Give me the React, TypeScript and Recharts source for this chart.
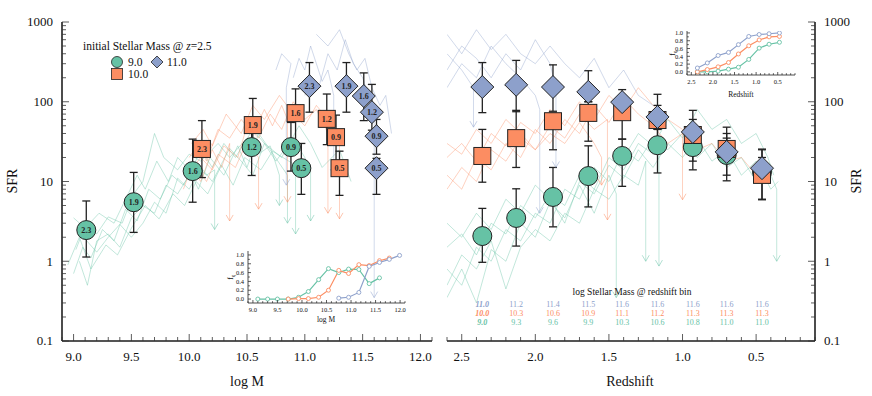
import React from 'react';
import { ComposedChart, LineChart, Line, Scatter, XAxis, YAxis, ErrorBar } from 'recharts';

const GREEN = '#66c2a5';
const ORANGE = '#fc8d62';
const BLUE = '#8da0cb';
const FONT = '"Liberation Serif", "DejaVu Serif", serif';

// ---------- left panel: SFR vs log M, labels = redshift ----------
const mGreenX = [9.11, 9.52, 10.03, 10.54, 10.88, 10.97];
const mGreenY = [2.46, 5.5, 13.5, 27, 27, 14.7];
const mGreenHi = [5.7, 13, 34, 55, 55, 30];
const mGreenLo = [1.13, 2.3, 5.5, 11.9, 13.5, 6.9];
const mGreenZ = ['2.3', '1.9', '1.6', '1.2', '0.9', '0.5'];

const mOrangeX = [10.11, 10.55, 10.92, 11.19, 11.27, 11.3];
const mOrangeY = [25.6, 51, 72, 61, 36, 14.7];
const mOrangeHi = [58, 110, 145, 125, 68, 24];
const mOrangeLo = [11.2, 22, 30, 29, 17, 6.7];
const mOrangeZ = ['2.3', '1.9', '1.6', '1.2', '0.9', '0.5'];

const mBlueX = [11.04, 11.36, 11.51, 11.58, 11.62, 11.62];
const mBlueY = [157, 157, 118, 74, 37, 14.7];
const mBlueHi = [310, 310, 230, 165, 60, 19.5];
const mBlueLo = [74, 74, 58, 44, 22, 6.9];
const mBlueZ = ['2.3', '1.9', '1.6', '1.2', '0.9', '0.5'];

// ---------- right panel: SFR vs redshift ----------
const zBins = [2.36, 2.13, 1.88, 1.64, 1.41, 1.17, 0.93, 0.7, 0.46];
const zGreenY = [2.07, 3.49, 6.4, 11.7, 20.9, 28.5, 27, 21.5, 13.1];
const zGreenHi = [4.6, 8.1, 15, 28, 34, 45, 45, 35, 25];
const zGreenLo = [0.97, 1.55, 2.7, 4.8, 8.7, 12.8, 14, 10.2, 6];
const zOrangeY = [20.9, 35, 57, 72.5, 74, 59, 38.3, 25.6, 12.1];
const zOrangeHi = [45, 78, 72, 100, 110, 90, 60, 40, 20];
const zOrangeLo = [9.8, 15, 25, 32, 34, 30, 18, 12, 5.9];
const zBlueY = [153, 163, 153, 133, 99, 64.5, 41.8, 23.5, 14.7];
const zBlueHi = [310, 330, 290, 245, 142, 124, 78, 48, 25.5];
const zBlueLo = [73, 75, 76, 100, 60, 45, 26, 18, 10];

const massAtZBlue = ['11.0', '11.2', '11.4', '11.5', '11.6', '11.6', '11.6', '11.6', '11.6'];
const massAtZOrange = ['10.0', '10.3', '10.6', '10.9', '11.1', '11.2', '11.3', '11.3', '11.3'];
const massAtZGreen = ['9.0', '9.3', '9.6', '9.9', '10.3', '10.6', '10.8', '11.0', '11.0'];

// ---------- insets: quenched fraction ----------
const fqGreenM = [9.1, 9.3, 9.5, 9.72, 9.93, 10.13, 10.34, 10.54, 10.75, 10.95, 11.16, 11.37, 11.58];
const fqGreenMv = [0, 0, 0, 0, 0.04, 0.17, 0.44, 0.69, 0.6, 0.68, 0.67, 0.35, 0.48];
const fqOrangeM = [9.72, 9.93, 10.13, 10.34, 10.54, 10.75, 10.95, 11.16, 11.37, 11.58, 11.78];
const fqOrangeMv = [0, 0.01, 0.01, 0.04, 0.2, 0.65, 0.58, 0.78, 0.76, 0.87, 0.93];
const fqBlueM = [10.75, 10.95, 11.16, 11.37, 11.58, 11.78, 11.99];
const fqBlueMv = [0.02, 0.04, 0.15, 0.74, 0.83, 0.9, 0.99];

const fqBlueZ = [0.1, 0.23, 0.42, 0.5, 0.7, 0.91, 0.96, 0.98, 1.0];
const fqOrangeZ = [0.0, 0.06, 0.13, 0.24, 0.46, 0.67, 0.82, 0.9, 0.91];
const fqGreenZ = [0.0, 0.0, 0.02, 0.07, 0.12, 0.32, 0.61, 0.71, 0.76];

// ---------- individual tracks (faint lines) ----------
const trackGreenM = [
  [[9.0, 0.7], [9.08, 1.5], [9.15, 1.1], [9.25, 2.5], [9.35, 1.8], [9.45, 4.5], [9.55, 3.2], [9.65, 8], [9.75, 6], [9.85, 12], [9.95, 9], [10.05, 16], [10.15, 12], [10.22, 14], [10.22, 2.5]],
  [[9.02, 1.4], [9.1, 2.8], [9.2, 2.2], [9.3, 3.6], [9.42, 3.0], [9.52, 7], [9.6, 10], [9.7, 40], [9.78, 20], [9.9, 14], [10.0, 22], [10.1, 18], [10.25, 30], [10.35, 20], [10.5, 35], [10.6, 22], [10.7, 28], [10.78, 12], [10.78, 5]],
  [[9.05, 1.0], [9.12, 0.5], [9.2, 1.8], [9.3, 2.2], [9.4, 1.5], [9.5, 3.5], [9.6, 5], [9.7, 4], [9.8, 9], [9.9, 7], [10.0, 12], [10.1, 25], [10.2, 15], [10.3, 30], [10.4, 20], [10.55, 45], [10.65, 30], [10.75, 18], [10.9, 35], [11.0, 20], [11.05, 14], [11.05, 3.2]],
  [[9.0, 3.5], [9.1, 2.6], [9.22, 4], [9.35, 3], [9.45, 6], [9.55, 12], [9.62, 8], [9.72, 18], [9.82, 10], [9.9, 20], [10.0, 14], [10.08, 8], [10.18, 20], [10.3, 12], [10.42, 28], [10.5, 15], [10.6, 40], [10.7, 25], [10.85, 12], [10.85, 3]],
  [[9.1, 1.9], [9.2, 1.3], [9.3, 2], [9.4, 2.9], [9.5, 2], [9.6, 3], [9.7, 5.5], [9.8, 4], [9.9, 11], [10.0, 8], [10.1, 15], [10.2, 10], [10.35, 26], [10.45, 18], [10.55, 12], [10.65, 30], [10.8, 20], [10.95, 50], [11.05, 30], [11.15, 15], [11.3, 25], [11.4, 10]],
  [[8.95, 0.9], [9.05, 2.0], [9.15, 0.8], [9.28, 1.6], [9.38, 1.2], [9.5, 2.6], [9.62, 5], [9.74, 3.4], [9.86, 7], [9.96, 5], [10.06, 10], [10.16, 7], [10.28, 16], [10.38, 9], [10.48, 20], [10.62, 14], [10.72, 24], [10.92, 16], [10.92, 2.2]],
];
const trackOrangeM = [
  [[9.95, 8], [10.02, 15], [10.1, 10], [10.2, 25], [10.28, 15], [10.35, 30], [10.35, 3.2]],
  [[10.0, 20], [10.08, 30], [10.15, 18], [10.25, 45], [10.35, 35], [10.45, 60], [10.55, 40], [10.65, 80], [10.72, 50], [10.8, 90], [10.85, 60], [10.85, 5.5]],
  [[9.98, 12], [10.1, 20], [10.2, 14], [10.3, 28], [10.42, 20], [10.5, 50], [10.6, 35], [10.7, 70], [10.8, 45], [10.9, 100], [11.0, 60], [11.1, 80], [11.2, 40], [11.2, 4]],
  [[10.02, 30], [10.12, 45], [10.2, 28], [10.32, 70], [10.45, 40], [10.55, 90], [10.65, 60], [10.78, 120], [10.9, 70], [11.0, 50], [11.1, 90], [11.2, 60], [11.3, 30], [11.3, 3.4]],
  [[10.05, 16], [10.15, 10], [10.25, 22], [10.4, 15], [10.5, 32], [10.6, 20], [10.6, 4.5]],
];
const trackBlueM = [
  [[10.9, 200], [10.95, 350], [11.0, 250], [11.05, 500], [11.1, 300], [11.15, 180], [11.2, 250], [11.25, 120], [11.25, 12]],
  [[11.0, 120], [11.05, 200], [11.12, 150], [11.2, 400], [11.28, 250], [11.35, 600], [11.42, 300], [11.5, 200], [11.55, 120], [11.6, 60], [11.6, 0.35]],
  [[10.75, 250], [10.8, 400], [10.88, 300], [10.84, 150], [10.84, 9]],
  [[11.1, 700], [11.2, 500], [11.3, 800], [11.38, 400], [11.45, 250], [11.52, 350], [11.58, 150], [11.65, 90], [11.7, 120], [11.75, 40]],
];

const trackGreenZ = [
  [[2.6, 0.5], [2.5, 1.2], [2.4, 0.8], [2.3, 1.8], [2.2, 0.45], [2.1, 1.5], [2.0, 2.5], [1.9, 1.8], [1.8, 4], [1.7, 3], [1.6, 8], [1.5, 6], [1.4, 12], [1.3, 9], [1.25, 18], [1.25, 1.0]],
  [[2.6, 1.5], [2.5, 2.2], [2.4, 1.2], [2.3, 3], [2.2, 2.2], [2.1, 5], [2.0, 3.5], [1.9, 7], [1.8, 5], [1.7, 12], [1.6, 8], [1.5, 20], [1.4, 14], [1.3, 30], [1.2, 22], [1.16, 30], [1.16, 0.87]],
  [[2.6, 0.8], [2.5, 0.5], [2.4, 1.5], [2.3, 1.0], [2.2, 2.5], [2.1, 1.8], [2.0, 4], [1.9, 3], [1.8, 8], [1.7, 6], [1.6, 15], [1.5, 10], [1.4, 25], [1.3, 18], [1.2, 35], [1.1, 25], [1.0, 40], [0.9, 20], [0.8, 30], [0.7, 15], [0.6, 20], [0.5, 10], [0.4, 12], [0.36, 8], [0.36, 1.0]],
  [[2.6, 3], [2.5, 2], [2.4, 4], [2.3, 2.5], [2.2, 6], [2.1, 4], [2.0, 9], [1.9, 6], [1.8, 3], [1.7, 10], [1.6, 7], [1.5, 16], [1.4, 11], [1.3, 25], [1.2, 15], [1.1, 30], [1.0, 20], [0.9, 35], [0.8, 18], [0.7, 25], [0.6, 12], [0.5, 18], [0.4, 8], [0.35, 10]],
  [[2.6, 0.35], [2.5, 0.8], [2.4, 0.3], [2.3, 1.4], [2.2, 1.0], [2.1, 3], [2.0, 2], [1.9, 5.5], [1.8, 3.5], [1.7, 9], [1.6, 4], [1.5, 12], [1.45, 7], [1.45, 0.35]],
  [[1.4, 20], [1.3, 40], [1.2, 28], [1.1, 60], [1.0, 35], [0.9, 80], [0.8, 45], [0.7, 60], [0.6, 30], [0.5, 40], [0.42, 20], [0.38, 12]],
];
const trackOrangeZ = [
  [[2.6, 8], [2.5, 15], [2.4, 10], [2.3, 25], [2.2, 18], [2.1, 35], [2.0, 25], [1.9, 50], [1.8, 35], [1.7, 70], [1.6, 45], [1.51, 60], [1.51, 3.3]],
  [[2.6, 20], [2.5, 30], [2.4, 18], [2.3, 40], [2.2, 28], [2.1, 55], [2.0, 40], [1.9, 80], [1.8, 50], [1.7, 100], [1.6, 60], [1.5, 120], [1.4, 80], [1.3, 150], [1.2, 90], [1.1, 60], [1.0, 45], [1.0, 5.9]],
  [[2.6, 12], [2.5, 8], [2.4, 20], [2.3, 14], [2.2, 30], [2.1, 20], [2.0, 45], [1.9, 30], [1.8, 60], [1.7, 40], [1.6, 90], [1.5, 55], [1.4, 110], [1.3, 70], [1.2, 50], [1.1, 30], [1.0, 40], [0.9, 25], [0.8, 30], [0.7, 18], [0.6, 20], [0.5, 12]],
  [[2.6, 30], [2.5, 22], [2.4, 45], [2.3, 30], [2.2, 60], [2.1, 40], [2.0, 25], [1.9, 40], [1.8, 30], [1.7, 55], [1.6, 30], [1.55, 20], [1.55, 9]],
];
const trackBlueZ = [
  [[2.6, 400], [2.5, 250], [2.42, 150], [2.42, 48]],
  [[2.6, 150], [2.5, 300], [2.4, 200], [2.3, 500], [2.2, 300], [2.1, 200], [2.0, 120], [1.97, 80], [1.97, 4]],
  [[2.6, 250], [2.5, 500], [2.4, 350], [2.3, 200], [2.2, 400], [2.1, 250], [2.0, 600], [1.9, 300], [1.86, 150], [1.86, 15]],
  [[2.6, 700], [2.5, 400], [2.4, 800], [2.3, 450], [2.2, 700], [2.1, 400], [2.0, 300], [1.9, 500], [1.8, 300], [1.7, 200], [1.6, 350], [1.5, 150], [1.4, 250], [1.3, 120], [1.2, 90]],
];

// ---------- tick values ----------
const sfrMajors = [0.1, 1, 10, 100, 1000];
const massMajors = [9.0, 9.5, 10.0, 10.5, 11.0, 11.5, 12.0];
const zMajors = [2.5, 2.0, 1.5, 1.0, 0.5];
const fqMajors = [0.0, 0.2, 0.4, 0.6, 0.8, 1.0];

const round1 = (v: number) => Math.round(v * 10) / 10;
const sfrTicks = sfrMajors.slice(0, -1).flatMap(d => [1, 2, 3, 4, 5, 6, 7, 8, 9].map(k => +(d * k).toPrecision(3))).concat([1000]);
const steps = (a: number, b: number) => Array.from({ length: Math.round((b - a) * 10) + 1 }, (_, i) => round1(a + i * 0.1));
const massTicks = steps(8.9, 12.1);
const zTicks = steps(0.1, 2.6);
const fqTicks = steps(0, 1);

// ---------- helpers ----------
const pts = (xs: number[], ys: number[], hi: number[], lo: number[], labels?: string[]) =>
  xs.map((x, i) => ({ x, y: ys[i], err: [ys[i] - lo[i], hi[i] - ys[i]], label: labels ? labels[i] : '' }));
const toPts = (t: number[][]) => t.map(([x, y]) => ({ x, y }));
const tips = (tracks: number[][][]) =>
  tracks.filter(t => t.length > 1 && t[t.length - 1][0] === t[t.length - 2][0]).map(t => ({ x: t[t.length - 1][0], y: t[t.length - 1][1] }));

type Side = 'left' | 'right' | 'top' | 'bottom';
function tickFor(side: Side, majors: number[], o: { labels?: boolean; fmt?: (v: number) => string; major?: number; minor?: number; size?: number; gap?: number } = {}) {
  const { labels = false, fmt = (v: number) => String(v), major = 7, minor = 4, size = 13, gap = 9 } = o;
  return (p: any) => {
    const v = p.payload.value;
    const isMajor = majors.some(m => Math.abs(m - v) < 1e-6);
    const len = isMajor ? major : minor;
    const { x, y } = p;
    let l: number[] = [x, y, x, y];
    let t: any = null;
    const common = { fontFamily: FONT, fontSize: size, fill: '#111' };
    if (side === 'left') {
      l = [x, y, x + len, y];
      if (labels && isMajor) t = <text x={x - gap} y={y} dy={size * 0.34} textAnchor="end" {...common}>{fmt(v)}</text>;
    } else if (side === 'right') {
      l = [x, y, x - len, y];
      if (labels && isMajor) t = <text x={x + gap} y={y} dy={size * 0.34} textAnchor="start" {...common}>{fmt(v)}</text>;
    } else if (side === 'bottom') {
      l = [x, y, x, y - len];
      if (labels && isMajor) t = <text x={x} y={y + gap} dy={size * 0.34} textAnchor="middle" {...common}>{fmt(v)}</text>;
    } else {
      l = [x, y, x, y + len];
    }
    return (
      <g>
        <line x1={l[0]} y1={l[1]} x2={l[2]} y2={l[3]} stroke="#333" strokeWidth={0.8} />
        {t}
      </g>
    );
  };
}

const markerText = (cx: number, cy: number, s: string) =>
  s ? <text x={cx} y={cy} dy={2.8} textAnchor="middle" fontFamily={FONT} fontSize={8} fontWeight="bold" fill="#222">{s}</text> : null;

const CircleShape = (p: any) => (
  <g>
    <circle cx={p.cx} cy={p.cy} r={9.5} fill={GREEN} stroke="#222" strokeWidth={1} />
    {markerText(p.cx, p.cy, p.payload.label)}
  </g>
);
const SquareShape = (p: any) => (
  <g>
    <rect x={p.cx - 8.5} y={p.cy - 8.5} width={17} height={17} fill={ORANGE} stroke="#222" strokeWidth={1} />
    {markerText(p.cx, p.cy, p.payload.label)}
  </g>
);
const DiamondShape = (p: any) => (
  <g>
    <path d={`M${p.cx},${p.cy - 11.5}L${p.cx + 11.5},${p.cy}L${p.cx},${p.cy + 11.5}L${p.cx - 11.5},${p.cy}Z`} fill={BLUE} stroke="#222" strokeWidth={1} />
    {markerText(p.cx, p.cy, p.payload.label)}
  </g>
);
const arrowHead = (color: string) => (p: any) => (
  <path d={`M${p.cx - 3.5},${p.cy - 6}L${p.cx},${p.cy}L${p.cx + 3.5},${p.cy - 6}`} fill="none" stroke={color} strokeOpacity={0.5} strokeWidth={1} />
);

const renderTracks = (tracks: number[][][], color: string, key: string) =>
  tracks.map((t, i) => (
    <Line key={key + i} data={toPts(t)} dataKey="y" type="linear" stroke={color} strokeOpacity={0.4} strokeWidth={1} dot={false} activeDot={false} isAnimationActive={false} legendType="none" />
  ));

const errBar = <ErrorBar dataKey="err" direction="y" width={4} stroke="#222" strokeWidth={1.3} />;

const axisCommon = { tickSize: 0, tickMargin: 0, tickLine: false, interval: 0 as const, allowDataOverflow: true };

function LeftPanel() {
  const green = pts(mGreenX, mGreenY, mGreenHi, mGreenLo, mGreenZ);
  const orange = pts(mOrangeX, mOrangeY, mOrangeHi, mOrangeLo, mOrangeZ);
  const blue = pts(mBlueX, mBlueY, mBlueHi, mBlueLo, mBlueZ);
  return (
    <ComposedChart width={440} height={396} margin={{ top: 22, right: 8, bottom: 0, left: 0 }}>
      <XAxis dataKey="x" type="number" domain={[8.9, 12.1]} ticks={massTicks} height={55} axisLine={{ stroke: '#555', strokeWidth: 2 }} tick={tickFor('bottom', massMajors, { labels: true, fmt: v => v.toFixed(1), gap: 16 })} {...axisCommon} />
      <XAxis xAxisId="t" orientation="top" dataKey="x" type="number" domain={[8.9, 12.1]} ticks={massTicks} height={0} axisLine={{ stroke: '#111', strokeWidth: 1 }} tick={tickFor('top', massMajors)} {...axisCommon} />
      <YAxis dataKey="y" type="number" scale="log" domain={[0.1, 1000]} ticks={sfrTicks} width={62} axisLine={{ stroke: '#111', strokeWidth: 1.5 }} tick={tickFor('left', sfrMajors, { labels: true })} {...axisCommon} />
      <YAxis yAxisId="r" orientation="right" dataKey="y" type="number" scale="log" domain={[0.1, 1000]} ticks={sfrTicks} width={0} axisLine={{ stroke: '#666', strokeWidth: 1.5 }} tick={tickFor('right', sfrMajors)} {...axisCommon} />
      {renderTracks(trackGreenM, GREEN, 'gm')}
      {renderTracks(trackOrangeM, ORANGE, 'om')}
      {renderTracks(trackBlueM, BLUE, 'bm')}
      <Scatter data={tips(trackGreenM)} shape={arrowHead(GREEN)} isAnimationActive={false} />
      <Scatter data={tips(trackOrangeM)} shape={arrowHead(ORANGE)} isAnimationActive={false} />
      <Scatter data={tips(trackBlueM)} shape={arrowHead(BLUE)} isAnimationActive={false} />
      <Scatter data={green} shape={CircleShape} isAnimationActive={false}>{errBar}</Scatter>
      <Scatter data={orange} shape={SquareShape} isAnimationActive={false}>{errBar}</Scatter>
      <Scatter data={blue} shape={DiamondShape} isAnimationActive={false}>{errBar}</Scatter>
    </ComposedChart>
  );
}

const rowTextShape = (labels: string[], color: string, rowY: number, bold: boolean) => (p: any) => {
  const i = zBins.indexOf(p.payload.x);
  return (
    <text x={p.cx} y={rowY} textAnchor="middle" fontFamily={FONT} fontSize={8} fill={color} fontStyle={i === 0 ? 'italic' : 'normal'} fontWeight={i === 0 && bold ? 'bold' : 'normal'}>
      {labels[i]}
    </text>
  );
};

function RightPanel() {
  const green = pts(zBins, zGreenY, zGreenHi, zGreenLo);
  const orange = pts(zBins, zOrangeY, zOrangeHi, zOrangeLo);
  const blue = pts(zBins, zBlueY, zBlueHi, zBlueLo);
  const rowPts = zBins.map(x => ({ x, y: 1 }));
  return (
    <ComposedChart width={432} height={396} margin={{ top: 22, right: 0, bottom: 0, left: 7 }}>
      <XAxis dataKey="x" type="number" reversed domain={[0.1, 2.6]} ticks={zTicks} height={55} axisLine={{ stroke: '#555', strokeWidth: 2 }} tick={tickFor('bottom', zMajors, { labels: true, fmt: v => v.toFixed(1), gap: 16 })} {...axisCommon} />
      <XAxis xAxisId="t" orientation="top" dataKey="x" type="number" reversed domain={[0.1, 2.6]} ticks={zTicks} height={0} axisLine={{ stroke: '#111', strokeWidth: 1 }} tick={tickFor('top', zMajors)} {...axisCommon} />
      <YAxis orientation="right" dataKey="y" type="number" scale="log" domain={[0.1, 1000]} ticks={sfrTicks} width={57} axisLine={{ stroke: '#111', strokeWidth: 1.5 }} tick={tickFor('right', sfrMajors, { labels: true })} {...axisCommon} />
      <YAxis yAxisId="l" orientation="left" dataKey="y" type="number" scale="log" domain={[0.1, 1000]} ticks={sfrTicks} width={0} axisLine={{ stroke: '#aaa', strokeWidth: 1.5 }} tick={tickFor('left', sfrMajors)} {...axisCommon} />
      {renderTracks(trackGreenZ, GREEN, 'gz')}
      {renderTracks(trackOrangeZ, ORANGE, 'oz')}
      {renderTracks(trackBlueZ, BLUE, 'bz')}
      <Scatter data={tips(trackGreenZ)} shape={arrowHead(GREEN)} isAnimationActive={false} />
      <Scatter data={tips(trackOrangeZ)} shape={arrowHead(ORANGE)} isAnimationActive={false} />
      <Scatter data={tips(trackBlueZ)} shape={arrowHead(BLUE)} isAnimationActive={false} />
      <Scatter data={green} shape={CircleShape} isAnimationActive={false}>{errBar}</Scatter>
      <Scatter data={orange} shape={SquareShape} isAnimationActive={false}>{errBar}</Scatter>
      <Scatter data={blue} shape={DiamondShape} isAnimationActive={false}>{errBar}</Scatter>
      <Scatter data={rowPts} shape={rowTextShape(massAtZBlue, BLUE, 307, true)} isAnimationActive={false} />
      <Scatter data={rowPts} shape={rowTextShape(massAtZOrange, ORANGE, 316, true)} isAnimationActive={false} />
      <Scatter data={rowPts} shape={rowTextShape(massAtZGreen, GREEN, 325, true)} isAnimationActive={false} />
    </ComposedChart>
  );
}

const insetAxis = { tickSize: 0, tickMargin: 0, tickLine: false, interval: 0 as const, allowDataOverflow: true };
const smallTick = { major: 3, minor: 1.8, size: 6.5, gap: 4 };
const insetDot = (color: string) => ({ r: 2, fill: '#fff', stroke: color, strokeWidth: 0.9 });

function InsetMass() {
  const mk = (xs: number[], ys: number[]) => xs.map((x, i) => ({ x, f: ys[i] }));
  return (
    <LineChart width={185} height={83} margin={{ top: 6, right: 5, bottom: 0, left: 0 }}>
      <XAxis dataKey="x" type="number" domain={[8.9, 12.1]} ticks={massTicks} height={25} axisLine={{ stroke: '#222', strokeWidth: 0.8 }} tick={tickFor('bottom', massMajors, { ...smallTick, labels: true, fmt: v => v.toFixed(1), gap: 7 })} {...insetAxis} />
      <XAxis xAxisId="t" orientation="top" dataKey="x" type="number" domain={[8.9, 12.1]} ticks={massTicks} height={0} axisLine={{ stroke: '#222', strokeWidth: 0.8 }} tick={tickFor('top', massMajors, smallTick)} {...insetAxis} />
      <YAxis dataKey="f" type="number" domain={[-0.09, 1.09]} ticks={fqTicks} width={23} axisLine={{ stroke: '#222', strokeWidth: 0.8 }} tick={tickFor('left', fqMajors, { ...smallTick, labels: true, fmt: v => v.toFixed(1) })} {...insetAxis} />
      <YAxis yAxisId="r" orientation="right" dataKey="f" type="number" domain={[-0.09, 1.09]} ticks={fqTicks} width={0} axisLine={{ stroke: '#222', strokeWidth: 0.8 }} tick={tickFor('right', fqMajors, smallTick)} {...insetAxis} />
      <Line data={mk(fqGreenM, fqGreenMv)} dataKey="f" stroke={GREEN} strokeWidth={1.2} dot={insetDot(GREEN)} isAnimationActive={false} />
      <Line data={mk(fqOrangeM, fqOrangeMv)} dataKey="f" stroke={ORANGE} strokeWidth={1.2} dot={insetDot(ORANGE)} isAnimationActive={false} />
      <Line data={mk(fqBlueM, fqBlueMv)} dataKey="f" stroke={BLUE} strokeWidth={1.2} dot={insetDot(BLUE)} isAnimationActive={false} />
    </LineChart>
  );
}

function InsetZ() {
  const mk = (ys: number[]) => zBins.map((x, i) => ({ x, f: ys[i] }));
  return (
    <LineChart width={135} height={75} margin={{ top: 6, right: 5, bottom: 0, left: 0 }}>
      <XAxis dataKey="x" type="number" reversed domain={[0.1, 2.6]} ticks={zTicks} height={25} axisLine={{ stroke: '#222', strokeWidth: 0.8 }} tick={tickFor('bottom', zMajors, { ...smallTick, labels: true, fmt: v => v.toFixed(1), gap: 7 })} {...insetAxis} />
      <XAxis xAxisId="t" orientation="top" dataKey="x" type="number" reversed domain={[0.1, 2.6]} ticks={zTicks} height={0} axisLine={{ stroke: '#222', strokeWidth: 0.8 }} tick={tickFor('top', zMajors, smallTick)} {...insetAxis} />
      <YAxis dataKey="f" type="number" domain={[-0.08, 1.05]} ticks={fqTicks} width={22} axisLine={{ stroke: '#222', strokeWidth: 0.8 }} tick={tickFor('left', fqMajors, { ...smallTick, labels: true, fmt: v => v.toFixed(1) })} {...insetAxis} />
      <YAxis yAxisId="r" orientation="right" dataKey="f" type="number" domain={[-0.08, 1.05]} ticks={fqTicks} width={0} axisLine={{ stroke: '#222', strokeWidth: 0.8 }} tick={tickFor('right', fqMajors, smallTick)} {...insetAxis} />
      <Line data={mk(fqGreenZ)} dataKey="f" stroke={GREEN} strokeWidth={1.2} dot={insetDot(GREEN)} isAnimationActive={false} />
      <Line data={mk(fqOrangeZ)} dataKey="f" stroke={ORANGE} strokeWidth={1.2} dot={insetDot(ORANGE)} isAnimationActive={false} />
      <Line data={mk(fqBlueZ)} dataKey="f" stroke={BLUE} strokeWidth={1.2} dot={insetDot(BLUE)} isAnimationActive={false} />
    </LineChart>
  );
}

export default function App() {
  const txt = { fontFamily: FONT, fill: '#111' };
  return (
    <div style={{ position: 'absolute', left: 0, top: 0, width: 872, height: 396, background: '#fff', fontFamily: FONT }}>
      <div style={{ position: 'absolute', left: 0, top: 0 }}><LeftPanel /></div>
      <div style={{ position: 'absolute', left: 440, top: 0 }}><RightPanel /></div>
      <div style={{ position: 'absolute', left: 225, top: 245 }}><InsetMass /></div>
      <div style={{ position: 'absolute', left: 665, top: 25 }}><InsetZ /></div>
      <svg width={872} height={396} style={{ position: 'absolute', left: 0, top: 0, pointerEvents: 'none' }}>
        <text x={14} y={181} transform="rotate(-90 14 181)" textAnchor="middle" dominantBaseline="middle" fontSize={14} {...txt}>SFR</text>
        <text x={858} y={181} transform="rotate(-90 858 181)" textAnchor="middle" dominantBaseline="middle" fontSize={14} {...txt}>SFR</text>
        <text x={247} y={386} textAnchor="middle" fontSize={14} {...txt}>log M</text>
        <text x={630} y={386} textAnchor="middle" fontSize={14} {...txt}>Redshift</text>
        <text x={326} y={322} textAnchor="middle" fontSize={7.5} {...txt}>log M</text>
        <text x={741} y={97} textAnchor="middle" fontSize={7.5} {...txt}>Redshift</text>
        <text x={233} y={277} transform="rotate(-90 233 277)" textAnchor="middle" fontSize={7.5} {...txt}>f<tspan fontSize={5.5} dy={1.5}>q</tspan></text>
        <text x={675} y={53} transform="rotate(-90 675 53)" textAnchor="middle" fontSize={7.5} {...txt}>f<tspan fontSize={5.5} dy={1.5}>q</tspan></text>
        <text x={632} y={295} textAnchor="middle" fontSize={9.5} {...txt}>log Stellar Mass @ redshift bin</text>
        <text x={83} y={50} fontSize={11.5} {...txt}>initial Stellar Mass @ <tspan fontStyle="italic">z</tspan>=2.5</text>
        <circle cx={117} cy={62} r={5.5} fill={GREEN} stroke="#222" strokeWidth={0.8} />
        <text x={128} y={66} fontSize={11.5} {...txt}>9.0</text>
        <path d="M157,56L163,62L157,68L151,62Z" fill={BLUE} stroke="#222" strokeWidth={0.8} />
        <text x={167} y={66} fontSize={11.5} {...txt}>11.0</text>
        <rect x={111.5} y={68.5} width={11} height={11} fill={ORANGE} stroke="#222" strokeWidth={0.8} />
        <text x={128} y={78} fontSize={11.5} {...txt}>10.0</text>
      </svg>
    </div>
  );
}
